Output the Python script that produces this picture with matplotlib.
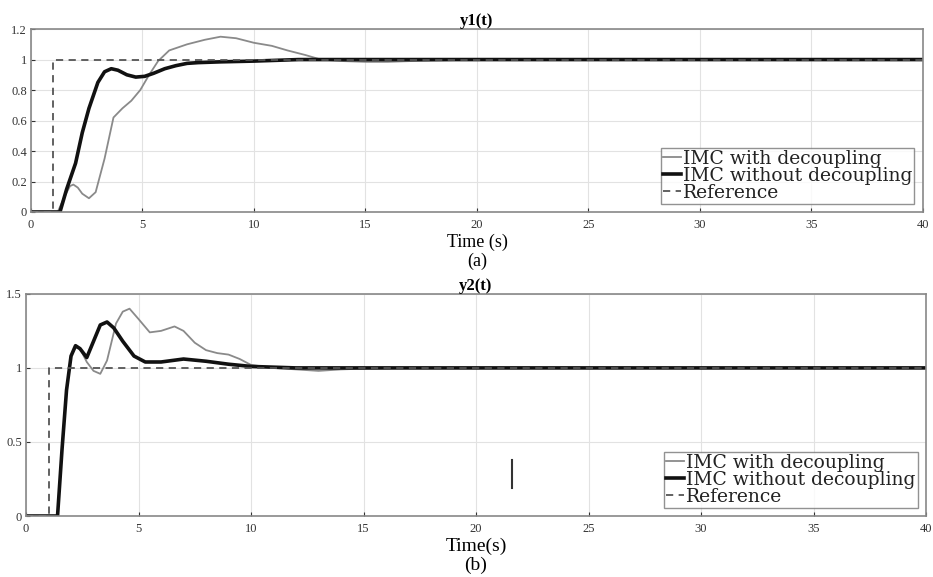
import matplotlib
matplotlib.use("Agg")
import matplotlib.pyplot as plt
import numpy as np

# y1(t) traces
t1_dec = [0, 1.2, 1.5, 1.75, 1.9, 2.1, 2.3, 2.6, 2.9, 3.3, 3.7, 4.1, 4.5, 4.9, 5.3, 5.7, 6.2, 7.0, 7.8, 8.5, 9.2, 10.0, 10.8, 11.5, 12.3, 13.0, 14.0, 15.0, 16.0, 17.0, 18.5, 20.0, 40.0]
y1_dec = [0, 0, 0.1, 0.17, 0.18, 0.16, 0.12, 0.09, 0.13, 0.35, 0.62, 0.68, 0.73, 0.8, 0.9, 0.99, 1.06, 1.1, 1.13, 1.15, 1.14, 1.11, 1.09, 1.06, 1.03, 1.0, 0.99, 0.985, 0.985, 0.99, 0.995, 1.0, 1.0]
t1_nodec = [0, 1.3, 1.6, 2.0, 2.3, 2.6, 3.0, 3.3, 3.6, 3.9, 4.3, 4.7, 5.1, 5.5, 6.0, 6.5, 7.0, 7.5, 8.5, 10.0, 11.0, 12.0, 40.0]
y1_nodec = [0, 0, 0.15, 0.32, 0.52, 0.68, 0.85, 0.92, 0.94, 0.93, 0.9, 0.885, 0.89, 0.91, 0.94, 0.96, 0.975, 0.98, 0.985, 0.99, 0.995, 1.0, 1.0]

# y2(t) traces
t2_dec = [0, 1.4, 1.6, 1.8, 2.0, 2.2, 2.4, 2.7, 3.0, 3.3, 3.6, 4.0, 4.3, 4.6, 5.0, 5.5, 6.0, 6.6, 7.0, 7.5, 8.0, 8.5, 9.0, 9.5, 10.0, 11.0, 12.0, 13.0, 14.0, 15.0, 17.0, 40.0]
y2_dec = [0, 0, 0.45, 0.85, 1.08, 1.14, 1.13, 1.04, 0.98, 0.96, 1.05, 1.3, 1.38, 1.4, 1.33, 1.24, 1.25, 1.28, 1.25, 1.17, 1.12, 1.1, 1.09, 1.06, 1.02, 1.0, 0.99, 0.98, 0.99, 0.995, 1.0, 1.0]
t2_nodec = [0, 1.4, 1.6, 1.8, 2.0, 2.2, 2.4, 2.7, 3.0, 3.3, 3.6, 3.9, 4.3, 4.8, 5.3, 6.0, 7.0, 8.0, 9.0, 10.0, 12.0, 40.0]
y2_nodec = [0, 0, 0.45, 0.85, 1.08, 1.15, 1.13, 1.07, 1.18, 1.29, 1.31, 1.27, 1.18, 1.08, 1.04, 1.04, 1.06, 1.045, 1.025, 1.01, 1.0, 1.0]

t_ref = [0, 1.0, 1.0, 40.0]
y_ref = [0, 0, 1, 1]

# stray mark in the lower panel
mark_t = [21.6, 21.6]
mark_y = [0.19, 0.38]

plt.rcParams['font.family'] = ['Liberation Serif', 'DejaVu Serif']

fig = plt.figure(figsize=(9.33, 5.77), dpi=100)
ax1 = fig.add_axes([0.0332, 0.6326, 0.956, 0.317])
ax2 = fig.add_axes([0.0279, 0.1057, 0.9646, 0.385])

gray = "#8a8a8a"
for ax, td, yd, tn, yn in [(ax1, t1_dec, y1_dec, t1_nodec, y1_nodec),
                           (ax2, t2_dec, y2_dec, t2_nodec, y2_nodec)]:
    ax.plot(td, yd, color=gray, lw=1.3, label="IMC with decoupling")
    ax.plot(tn, yn, color="#111111", lw=2.6, label="IMC without decoupling")
    ax.plot(t_ref, y_ref, color="#555555", lw=1.3, ls=(0, (4, 3)), label="Reference")
    ax.set_xlim(0, 40)
    ax.set_xticks(np.arange(0, 41, 5))
    ax.grid(True, color="#e2e2e2", lw=0.8)
    ax.tick_params(labelsize=9, length=3, direction="in", pad=5, colors="#333333")
    for s in ax.spines.values():
        s.set_color("#888888")
        s.set_linewidth(1.2)
    leg = ax.legend(loc="lower right", prop={"family": "DejaVu Serif", "size": 13.5},
                    frameon=True, fancybox=False,
                    edgecolor="#777777", borderpad=0.1, labelspacing=-0.05,
                    handlelength=1.0, handletextpad=0.1, borderaxespad=0.45)
    for txt in leg.get_texts():
        txt.set_color("#222222")

ax1.set_ylim(0, 1.2)
ax1.set_yticks([0, 0.2, 0.4, 0.6, 0.8, 1, 1.2])
ax1.set_yticklabels(["0", "0.2", "0.4", "0.6", "0.8", "1", "1.2"])
ax1.tick_params(axis="y", pad=3)
ax1.set_title("y1(t)", fontsize=12, fontweight="bold", pad=3)
ax1.set_xlabel("Time (s)\n(a)", fontsize=13, labelpad=2, linespacing=1.15)

ax2.set_ylim(0, 1.5)
ax2.set_yticks([0, 0.5, 1, 1.5])
ax2.set_yticklabels(["0", "0.5", "1", "1.5"])
ax2.tick_params(axis="y", pad=3)
ax2.plot(mark_t, mark_y, color="#333333", lw=1.5)
ax2.set_title("y2(t)", fontsize=12, fontweight="bold", pad=3)
ax2.set_xlabel("Time(s)\n(b)", fontsize=14, labelpad=2, linespacing=1.1)

plt.savefig("out.png", dpi=100)
